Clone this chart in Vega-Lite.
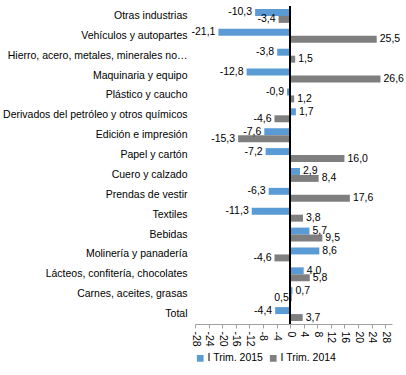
{
  "$schema": "https://vega.github.io/schema/vega-lite/v6.json",
  "width": 197,
  "height": 318,
  "padding": {"left": 2, "top": 5, "right": 8, "bottom": 5},
  "background": "white",
  "data": {"values": [
    {"cat": "Otras industrias", "serie": "I Trim. 2015", "value": -10.3},
    {"cat": "Otras industrias", "serie": "I Trim. 2014", "value": -3.4},
    {"cat": "Vehículos y autopartes", "serie": "I Trim. 2015", "value": -21.1},
    {"cat": "Vehículos y autopartes", "serie": "I Trim. 2014", "value": 25.5},
    {"cat": "Hierro, acero, metales, minerales no…", "serie": "I Trim. 2015", "value": -3.8},
    {"cat": "Hierro, acero, metales, minerales no…", "serie": "I Trim. 2014", "value": 1.5},
    {"cat": "Maquinaria y equipo", "serie": "I Trim. 2015", "value": -12.8},
    {"cat": "Maquinaria y equipo", "serie": "I Trim. 2014", "value": 26.6},
    {"cat": "Plástico y caucho", "serie": "I Trim. 2015", "value": -0.9},
    {"cat": "Plástico y caucho", "serie": "I Trim. 2014", "value": 1.2},
    {"cat": "Derivados del petróleo y otros químicos", "serie": "I Trim. 2015", "value": 1.7},
    {"cat": "Derivados del petróleo y otros químicos", "serie": "I Trim. 2014", "value": -4.6},
    {"cat": "Edición e impresión", "serie": "I Trim. 2015", "value": -7.6},
    {"cat": "Edición e impresión", "serie": "I Trim. 2014", "value": -15.3},
    {"cat": "Papel y cartón", "serie": "I Trim. 2015", "value": -7.2},
    {"cat": "Papel y cartón", "serie": "I Trim. 2014", "value": 16.0},
    {"cat": "Cuero y calzado", "serie": "I Trim. 2015", "value": 2.9},
    {"cat": "Cuero y calzado", "serie": "I Trim. 2014", "value": 8.4},
    {"cat": "Prendas de vestir", "serie": "I Trim. 2015", "value": -6.3},
    {"cat": "Prendas de vestir", "serie": "I Trim. 2014", "value": 17.6},
    {"cat": "Textiles", "serie": "I Trim. 2015", "value": -11.3},
    {"cat": "Textiles", "serie": "I Trim. 2014", "value": 3.8},
    {"cat": "Bebidas", "serie": "I Trim. 2015", "value": 5.7},
    {"cat": "Bebidas", "serie": "I Trim. 2014", "value": 9.5},
    {"cat": "Molinería y panadería", "serie": "I Trim. 2015", "value": 8.6},
    {"cat": "Molinería y panadería", "serie": "I Trim. 2014", "value": -4.6},
    {"cat": "Lácteos, confitería, chocolates", "serie": "I Trim. 2015", "value": 4.0},
    {"cat": "Lácteos, confitería, chocolates", "serie": "I Trim. 2014", "value": 5.8},
    {"cat": "Carnes, aceites, grasas", "serie": "I Trim. 2015", "value": 0.7},
    {"cat": "Carnes, aceites, grasas", "serie": "I Trim. 2014", "value": 0.5},
    {"cat": "Total", "serie": "I Trim. 2015", "value": -4.4},
    {"cat": "Total", "serie": "I Trim. 2014", "value": 3.7}
  ]},
  "encoding": {
    "y": {
      "field": "cat", "type": "nominal", "sort": null, "title": null,
      "scale": {"paddingInner": 0.3, "paddingOuter": 0.15},
      "axis": {"domain": false, "ticks": false, "labelFontSize": 10.5, "labelColor": "#000000", "labelPadding": 8, "labelLimit": 250}
    },
    "yOffset": {"field": "serie", "type": "nominal", "sort": ["I Trim. 2015", "I Trim. 2014"]},
    "x": {
      "field": "value", "type": "quantitative", "title": null,
      "scale": {"domain": [-28, 30], "nice": false, "zero": false},
      "axis": {"values": [-28, -24, -20, -16, -12, -8, -4, 0, 4, 8, 12, 16, 20, 24, 28], "grid": false, "labelAngle": 90, "labelOverlap": false, "labelBound": false, "labelFlush": false, "labelFontSize": 10.5, "labelColor": "#000000", "domainColor": "#a0a0a0", "tickColor": "#a0a0a0", "tickSize": 4, "labelPadding": 3, "format": "d"}
    }
  },
  "layer": [
    {
      "mark": {"type": "bar"},
      "encoding": {
        "color": {
          "field": "serie", "type": "nominal", "title": null,
          "scale": {"domain": ["I Trim. 2015", "I Trim. 2014"], "range": ["#5B9BD5", "#7F7F7F"]},
          "legend": {"orient": "bottom", "direction": "horizontal", "symbolType": "square", "symbolSize": 45, "labelFontSize": 10.5, "labelColor": "#000000", "columnPadding": 4, "symbolOffset": 0, "offset": 6, "padding": 0, "labelOffset": 2}
        }
      }
    },
    {
      "transform": [{"filter": "datum.value < 0 || (datum.cat == 'Carnes, aceites, grasas' && datum.serie == 'I Trim. 2014')"}],
      "mark": {"type": "text", "align": "right", "dx": -3, "fontSize": 10.5, "color": "#000000"},
      "encoding": {
        "text": {"field": "value", "type": "quantitative", "format": ".1f"}
      }
    },
    {
      "transform": [{"filter": "datum.value >= 0 && !(datum.cat == 'Carnes, aceites, grasas' && datum.serie == 'I Trim. 2014')"}],
      "mark": {"type": "text", "align": "left", "dx": 3, "fontSize": 10.5, "color": "#000000"},
      "encoding": {
        "text": {"field": "value", "type": "quantitative", "format": ".1f"}
      }
    },
    {
      "mark": {"type": "rule", "color": "#000000", "strokeWidth": 1},
      "encoding": {"x": {"datum": 0}, "y": {"value": 0}, "y2": {"value": 318}, "yOffset": {"value": 0}}
    }
  ],
  "config": {
    "font": "Liberation Sans",
    "view": {"stroke": null},
    "locale": {"number": {"decimal": ",", "thousands": ".", "grouping": [3], "currency": ["", ""], "minus": "-"}}
  }
}
